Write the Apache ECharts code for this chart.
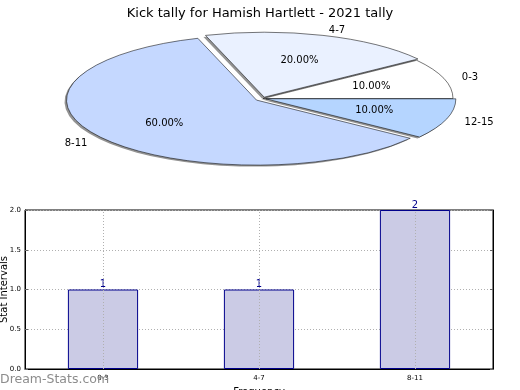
<!DOCTYPE html>
<html>
<head>
<meta charset="utf-8">
<script src="https://cdn.jsdelivr.net/npm/echarts@6/dist/echarts.min.js"></script>
<style>html,body{margin:0;padding:0;background:#fff}#c{width:520px;height:390px}</style>
</head>
<body>
<div id="c"></div>
<script>
const titleText = 'Kick tally for Hamish Hartlett - 2021 tally';
const pieCats = ['0-3', '4-7', '8-11', '12-15'];
const pieValues = [10, 20, 60, 10];
const pieExplode = [0, 4, 8, 3];
const pieColors = ['#ffffff', '#eaf1ff', '#c5d8ff', '#b5d5ff'];
const barCats = ['0-3', '4-7', '8-11'];
const barValues = [1, 1, 2];

const PCX = 263, PCY = 98.5, RX = 190, RY = 65;
const K = RY / RX;
const FONT = 'DejaVu Sans';

function renderPie(params, api) {
  const i = params.dataIndex;
  const total = pieValues.reduce((a, b) => a + b, 0);
  const before = pieValues.slice(0, i).reduce((a, b) => a + b, 0);
  const v = api.value(0);
  const a1 = before / total * Math.PI * 2;
  const a2 = (before + v) / total * Math.PI * 2;
  const m = (a1 + a2) / 2;
  const d = pieExplode[i];
  const ox = d * Math.cos(m), oy = -d * Math.sin(m);
  const shape = (dx, dy) => ({cx: ox + dx, cy: oy + dy / K, r0: 0, r: RX,
    startAngle: -a1, endAngle: -a2, clockwise: false});
  const pct = (v / total * 100).toFixed(2) + '%';
  const cx = PCX + ox, cy = PCY + oy * K;
  const px = cx + 0.6 * RX * Math.cos(m), py = cy - 0.6 * RY * Math.sin(m);
  const lx = cx + 1.1 * RX * Math.cos(m), ly = cy - 1.1 * RY * Math.sin(m);
  return {
    type: 'group',
    children: [
      {type: 'group', x: PCX, y: PCY, scaleY: K, children: [
        {type: 'sector', shape: shape(-2, 1.5), z2: 1,
         style: {fill: 'rgba(40,40,40,0.5)', stroke: null}},
        {type: 'sector', shape: shape(0, 0), z2: 10,
         style: {fill: pieColors[i], stroke: '#000', lineWidth: 0.8, strokeNoScale: true}}
      ]},
      {type: 'text', x: px, y: py, z2: 20,
       style: {text: pct, fill: '#000', font: '10px "DejaVu Sans"', align: 'center', verticalAlign: 'middle'}},
      {type: 'text', x: lx, y: ly + 1, z2: 20,
       style: {text: pieCats[i], fill: '#000', font: '10px "DejaVu Sans"',
               align: Math.cos(m) >= 0 ? 'left' : 'right', verticalAlign: 'middle'}}
    ]
  };
}

const chart = echarts.init(document.getElementById('c'), null, {renderer: 'canvas'});
chart.setOption({
  animation: false,
  backgroundColor: '#fff',
  title: {text: titleText, left: 'center', top: 2,
    textStyle: {fontFamily: FONT, fontSize: 13, fontWeight: 'normal', color: '#000'}},
  graphic: [{type: 'text', left: 0, top: 373, z: 100,
    style: {text: 'Dream-Stats.com', fill: '#8c8c8c', font: '12.5px "DejaVu Sans"'}}],
  grid: {left: 25, right: 27, top: 210, bottom: 21, containLabel: false, outerBoundsMode: 'none',
    show: true, borderColor: '#000', borderWidth: 1, backgroundColor: 'transparent'},
  xAxis: {type: 'category', data: barCats, boundaryGap: true,
    name: 'Frequency', nameLocation: 'middle', nameGap: 18, nameMoveOverlap: false,
    nameTextStyle: {fontFamily: FONT, fontSize: 10, color: '#000'},
    axisLine: {lineStyle: {color: '#000'}},
    axisTick: {alignWithLabel: true, inside: true, length: 3, lineStyle: {color: '#666'}},
    axisLabel: {fontFamily: FONT, fontSize: 7, color: '#000', margin: 6},
    splitLine: {show: false}},
  yAxis: [{type: 'value', min: 0, max: 2, interval: 0.5,
    name: 'Stat Intervals', nameLocation: 'middle', nameGap: 16, nameMoveOverlap: false,
    nameTextStyle: {fontFamily: FONT, fontSize: 10, color: '#000'},
    axisLine: {show: true, lineStyle: {color: '#000'}},
    axisTick: {show: true, inside: true, length: 3, lineStyle: {color: '#666'}},
    axisLabel: {fontFamily: FONT, fontSize: 7, color: '#000', margin: 4,
      formatter: v => v.toFixed(1)},
    splitLine: {show: true, lineStyle: {color: '#b0b0b0', type: [1, 2], width: 1}}},
   {type: 'value', min: 0, max: 2, interval: 0.5, position: 'right',
    axisLine: {show: true, lineStyle: {color: '#000'}},
    axisTick: {show: true, inside: true, length: 3, lineStyle: {color: '#666'}},
    axisLabel: {show: false}, splitLine: {show: false}}],
  series: [
    {type: 'custom', coordinateSystem: 'none', renderItem: renderPie,
     data: pieValues.map((v, i) => [v, i]), silent: true},
    {type: 'bar', data: barValues, barWidth: '45%', xAxisIndex: 0, yAxisIndex: 0,
     itemStyle: {color: '#cbcbe5', borderColor: '#00008b', borderWidth: 1},
     label: {show: true, position: 'top', distance: 0, color: '#00008b', fontFamily: FONT, fontSize: 10},
     markLine: {silent: true, symbol: 'none', label: {show: false},
       lineStyle: {color: '#b0b0b0', type: [1, 2], width: 1},
       data: barCats.map(c => ({xAxis: c}))},
     z: 2}
  ]
});
</script>
</body>
</html>
